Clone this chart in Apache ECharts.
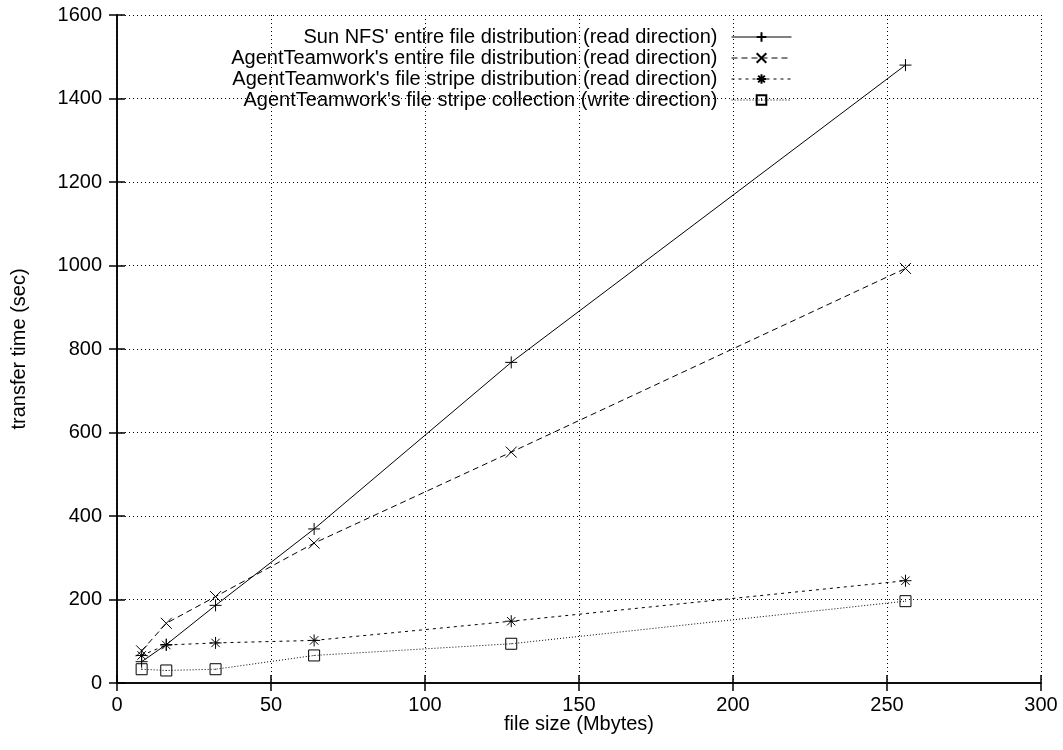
<!DOCTYPE html>
<html>
<head>
<meta charset="utf-8">
<script src="https://cdn.jsdelivr.net/npm/echarts@6/dist/echarts.min.js"></script>
<style>html,body{margin:0;padding:0;background:#fff;}#c{width:1063px;height:750px;}</style>
</head>
<body>
<div id="c"></div>
<script>
const fileSizes = [8, 16, 32, 64, 128, 256];
const sunNfsEntire = [51, 92, 186, 369, 768, 1480];
const atEntire = [77, 143, 207, 335, 553, 993];
const atStripeDist = [66, 91, 96, 102, 148, 245];
const atStripeColl = [33, 30, 33, 66, 94, 196];
const seriesNames = [
  "Sun NFS' entire file distribution (read direction)",
  "AgentTeamwork's entire file distribution (read direction)",
  "AgentTeamwork's file stripe distribution (read direction)",
  "AgentTeamwork's file stripe collection (write direction)"
];
const xTitle = "file size (Mbytes)";
const yTitle = "transfer time (sec)";

const FONT = "Liberation Sans, Arial, sans-serif";
const plusSym = 'path://M0,5L10,5M5,0L5,10';
const crossSym = 'path://M0,0L10,10M10,0L0,10';
const starSym = 'path://M0,5L10,5M5,0L5,10M1.5,1.5L8.5,8.5M8.5,1.5L1.5,8.5';
const boxSym = 'path://M0,0L10,0L10,10L0,10ZM4.6,5L5.4,5';

function pts(ys){ return fileSizes.map((x,i)=>[x, ys[i]]); }

const chart = echarts.init(document.getElementById('c'), null, {renderer:'canvas'});
const mk = (name, data, sym, size, dash, fill) => ({
  name, type:'line', data: pts(data), symbol: sym, symbolSize: size,
  showAllSymbol:true, animation:false,
  lineStyle:{color:'#000', width:1, type:dash},
  itemStyle:{color: fill, borderColor:'#000', borderWidth:1}
});
const axisLine = {show:true, lineStyle:{color:'#000', width:1.5}};
const tick = {inside:true, length:8, lineStyle:{color:'#000', width:1.5}};
chart.setOption({
  animation:false,
  textStyle:{fontFamily:FONT},
  grid:{left:117, top:15, right:22, bottom:67, show:false},
  legend:{
    orient:'vertical', right:266, top:22, itemWidth:60, itemHeight:12, itemGap:1,
    align:'right',
    lineStyle:{width:1},
    textStyle:{fontFamily:FONT, fontSize:20, color:'#000', width:500, align:'right', padding:[0,9,0,0]},
    data: seriesNames
  },
  xAxis:[{
    type:'value', min:0, max:300, interval:50, position:'bottom',
    name:xTitle, nameLocation:'middle', nameGap:31, nameMoveOverlap:false,
    nameTextStyle:{fontFamily:FONT, fontSize:20, color:'#000', verticalAlign:'top'},
    axisLine, axisTick:tick,
    axisLabel:{fontFamily:FONT, fontSize:20, color:'#000', margin:12},
    splitLine:{show:true, lineStyle:{color:'#000', type:[1,3], width:1}}
  },{
    type:'value', min:0, max:300, interval:50, position:'top',
    axisLine, axisTick:tick,
    axisLabel:{show:false}, splitLine:{show:false}
  }],
  yAxis:[{
    type:'value', min:0, max:1600, interval:200, position:'left',
    name:yTitle, nameLocation:'middle', nameGap:88, nameRotate:90, nameMoveOverlap:false,
    nameTextStyle:{fontFamily:FONT, fontSize:20, color:'#000'},
    axisLine, axisTick:tick,
    axisLabel:{fontFamily:FONT, fontSize:20, color:'#000', margin:15, formatter:v=>String(v)},
    splitLine:{show:true, lineStyle:{color:'#000', type:[1,3], width:1}}
  },{
    type:'value', min:0, max:1600, interval:200, position:'right',
    axisLine, axisTick:tick,
    axisLabel:{show:false}, splitLine:{show:false}
  }],
  series:[
    mk(seriesNames[0], sunNfsEntire, plusSym, 12, 'solid', '#000'),
    mk(seriesNames[1], atEntire, crossSym, 11, [6,4], '#000'),
    mk(seriesNames[2], atStripeDist, starSym, 12, [3,4], '#000'),
    mk(seriesNames[3], atStripeColl, boxSym, 11, [1,2], 'none')
  ]
});
</script>
</body>
</html>
